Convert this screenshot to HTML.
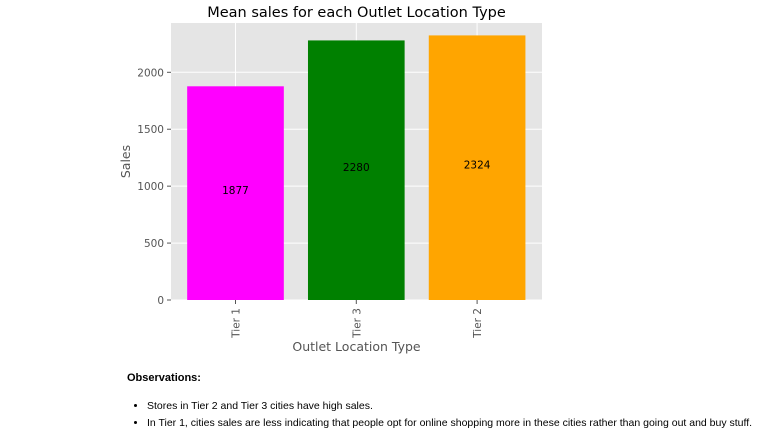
<!DOCTYPE html>
<html><head><meta charset="utf-8"><style>
body{margin:0;width:783px;height:439px;background:#fff;font-family:"DejaVu Sans","Liberation Sans",sans-serif;overflow:hidden;position:relative}
.obs{position:absolute;left:127px;top:372px;font-family:"Liberation Sans",sans-serif;font-size:11px;color:#000}
.obs b{display:block;margin-bottom:14px}
.obs ul{margin:0;padding-left:20px}
.obs li{font-size:10.5px;line-height:17px}
</style></head><body>
<svg id="chart" width="783" height="360" style="position:absolute;left:0;top:0"></svg>
<div class="obs">
<b>Observations:</b>
<ul>
<li>Stores in Tier 2 and Tier 3 cities have high sales.</li>
<li>In Tier 1, cities sales are less indicating that people opt for online shopping more in these cities rather than going out and buy stuff.</li>
</ul></div>
<script>
const categories=["Tier 1","Tier 3","Tier 2"];
const values=[1877,2280,2324];
const labels=["1877","2280","2324"];
const colors=["#ff00ff","#008000","#ffa500"];
const yTicks=[0,500,1000,1500,2000];
const svg=document.getElementById('chart');
const NS="http://www.w3.org/2000/svg";
const L=171,R=542,T=23,B=300;
const y=v=>B-v*(227.7/2000);
const step=120.8,x0=235.5;
const x=i=>x0+i*step;
function mk(t,a,txt){const e=document.createElementNS(NS,t);for(const k in a)e.setAttribute(k,a[k]);if(txt!==undefined)e.textContent=txt;svg.appendChild(e);return e;}
let e=mk('rect',{x:L,y:T,width:R-L,height:B-T,fill:'#e5e5e5'});


yTicks.forEach(v=>{
 let g=mk('line',{x1:L,x2:R,y1:y(v),y2:y(v),stroke:'#fff','stroke-width':1});
 
 
 mk('line',{x1:L-4,x2:L,y1:y(v),y2:y(v),stroke:'#555'});
 let t=mk('text',{x:L-7,y:y(v)+4,'text-anchor':'end','font-size':10.5,fill:'#555'},String(v));
 
 
});
categories.forEach((c,i)=>{
 let g=mk('line',{x1:x(i),x2:x(i),y1:T,y2:B,stroke:'#fff','stroke-width':1});
 
 
});
categories.forEach((c,i)=>{
 const w=step*0.8;
 let b=mk('rect',{x:x(i)-w/2,y:y(values[i]),width:w,height:B-y(values[i]),fill:colors[i]});
 
 
 let t=mk('text',{x:x(i),y:y(values[i]/2)+1,'text-anchor':'middle','font-size':10.5,fill:'#000'},labels[i]);
 
 
 mk('line',{x1:x(i),x2:x(i),y1:B,y2:B+4,stroke:'#555'});
 let xl=mk('text',{transform:`translate(${x(i)+4},${B+8}) rotate(-90)`,'text-anchor':'end','font-size':10.5,fill:'#555'},c);
 
 
});
let tt=mk('text',{x:(L+R)/2,y:17,'text-anchor':'middle','font-size':14.5,fill:'#000'},'Mean sales for each Outlet Location Type');


let xt=mk('text',{x:(L+R)/2,y:351,'text-anchor':'middle','font-size':12.5,fill:'#555'},'Outlet Location Type');


let yt=mk('text',{transform:`translate(130,${(T+B)/2}) rotate(-90)`,'text-anchor':'middle','font-size':12.5,fill:'#555'},'Sales');


</script>
</body></html>
